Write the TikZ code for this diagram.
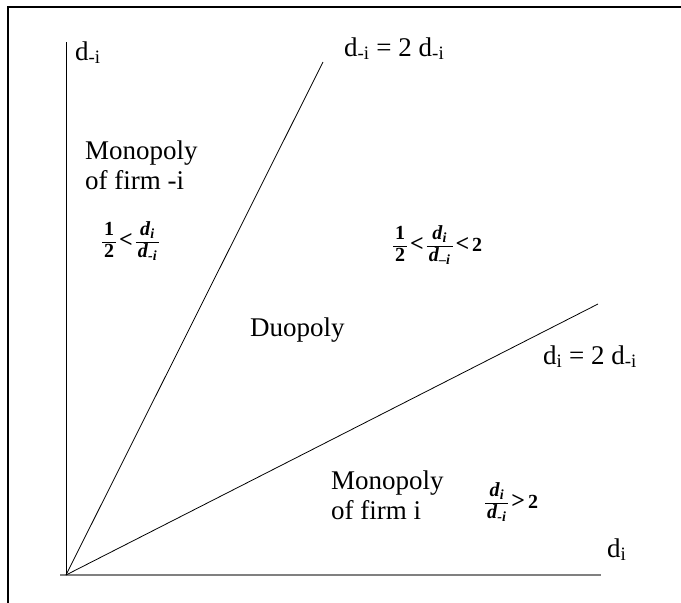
\documentclass[tikz,border=0pt]{standalone}
\usepackage{fontspec}
\setmainfont{Liberation Serif}
\newcommand{\bigtxt}{\fontsize{27}{30}\selectfont}
\newcommand{\frtxt}{\fontsize{20}{22}\selectfont\bfseries}
\newcommand{\bi}[1]{\textbf{\textit{#1}}}
\newcommand{\myfr}[2]{{\renewcommand{\arraystretch}{1.0}\setlength{\arrayrulewidth}{0.8pt}\begin{tabular}[c]{@{\hspace{2pt}}c@{\hspace{2pt}}}#1\\\hline #2\end{tabular}}}
\newcommand{\dsub}[1]{\bi{d}\textsubscript{\bi{#1}}}
\newcommand{\rel}[1]{\hspace{3pt}{\fontsize{24}{24}\selectfont #1}\hspace{3pt}}
\begin{document}
\begin{tikzpicture}[x=1pt,y=-1pt,
  lbl/.style={font=\bigtxt, inner sep=0pt, anchor=base west},
  twoline/.style={font=\bigtxt, inner sep=0pt, anchor=north west, align=left},
  frac/.style={font=\frtxt, inner sep=0pt, anchor=west},
  ray/.style={draw=black, line width=0.8pt},
  yaxis/.style={draw=black, line width=0.8pt},
  xaxis/.style={draw=gray, line width=1.4pt},
  frame/.style={draw=black, line width=1.3pt}]
\useasboundingbox (0,0) rectangle (681,603);
% frame (only top and left edges visible)
\coordinate (FL) at (8,603);
\coordinate (FC) at (8,7);
\coordinate (FR) at (681,7);
\draw[frame] (FL) -- (FC) -- (FR);
% axes
\coordinate (O) at (66,575);
\coordinate (Ytop) at (66,42);
\coordinate (Xl) at (60,575);
\coordinate (Xr) at (601,575);
\draw[xaxis] (Xl) -- (Xr);
\draw[yaxis] (O) -- (Ytop);
% rays
\coordinate (A) at (323,62);
\coordinate (B) at (598,304);
\draw[ray] (O) -- (A);
\draw[ray] (O) -- (B);
% labels
\node[lbl] (ylab) at (75,60) {d\textsubscript{-i}};
\node[lbl] (xlab) at (607,557) {d\textsubscript{i}};
\node[lbl] (rayA) at (344,56) {d\textsubscript{-i} = 2 d\textsubscript{-i}};
\node[lbl] (rayB) at (543,364) {d\textsubscript{i} = 2 d\textsubscript{-i}};
\node[twoline] (monoL) at (85,141) {Monopoly\\of firm -i};
\node[lbl] (duo) at (250,336) {Duopoly};
\node[twoline] (monoR) at (331,471) {Monopoly\\of firm i};
\node[frac] (fracL) at (102,242) {\myfr{1}{2}\rel{<}\myfr{\dsub{i}}{\dsub{-i}}};
\node[frac] (fracM) at (393,246) {\myfr{1}{2}\rel{<}\myfr{\dsub{i}}{\dsub{–i}}\rel{<}2};
\node[frac] (fracR) at (485,503) {\myfr{\dsub{i}}{\dsub{-i}}\rel{>}2};
\end{tikzpicture}
\end{document}
